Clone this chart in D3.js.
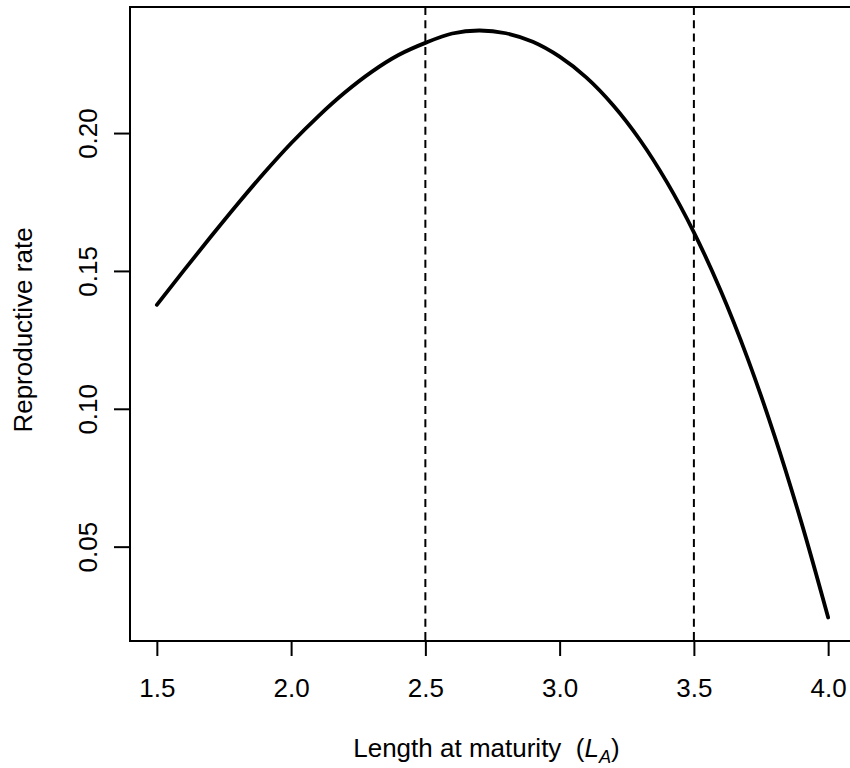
<!DOCTYPE html>
<html>
<head>
<meta charset="utf-8">
<script src="https://cdn.jsdelivr.net/npm/d3@7"></script>
<style>
  html, body { margin: 0; padding: 0; background: #fff; }
  svg { display: block; }
  text { font-family: "Liberation Sans", Arial, Helvetica, sans-serif; fill: #000; }
</style>
</head>
<body>
<svg id="chart" width="850" height="768"></svg>
<script>
// Length at maturity (x) and the resulting reproductive rate (y)
const lengths = [1.5, 1.6, 1.7, 1.8, 1.9, 2.0, 2.1, 2.2, 2.3, 2.4, 2.5,
                 2.6, 2.7, 2.8, 2.9, 3.0, 3.1, 3.2, 3.3, 3.4, 3.5,
                 3.6, 3.7, 3.8, 3.9, 4.0];
const rates = [0.1377, 0.1501, 0.1623, 0.1742, 0.1856, 0.1963, 0.2060, 0.2147, 0.2222, 0.2283, 0.2327,
               0.2361, 0.2372, 0.2362, 0.2331, 0.2277, 0.2201, 0.2100, 0.1974, 0.1821, 0.1640,
               0.1428, 0.1183, 0.0903, 0.0589, 0.0243];

// Reference lengths marked with dashed vertical lines
const cutoffs = [2.5, 3.5];

// Axis ticks
const xTicks = [1.5, 2.0, 2.5, 3.0, 3.5, 4.0];
const yTicks = [0.05, 0.10, 0.15, 0.20];

const svg = d3.select("#chart");
const plot = { left: 130, right: 855, top: 7, bottom: 641 };
const fontSize = 26;

// R-style 4% padding on both axes
function padded(ext) {
  const d = (ext[1] - ext[0]) * 0.04;
  return [ext[0] - d, ext[1] + d];
}

const x = d3.scaleLinear().domain(padded(d3.extent(lengths))).range([plot.left, plot.right]);
const y = d3.scaleLinear().domain(padded(d3.extent(rates))).range([plot.bottom, plot.top]);

// Dashed reference lines
svg.selectAll("line.cut")
  .data(cutoffs)
  .enter().append("line")
  .attr("class", "cut")
  .attr("x1", d => x(d)).attr("x2", d => x(d))
  .attr("y1", plot.top).attr("y2", plot.bottom)
  .attr("stroke", "#000").attr("stroke-width", 2)
  .attr("stroke-dasharray", "8,5.3");

// Curve
const pts = lengths.map((l, i) => [l, rates[i]]);
const line = d3.line()
  .x(d => x(d[0]))
  .y(d => y(d[1]))
  .curve(d3.curveCatmullRom.alpha(0.5));

svg.append("path")
  .datum(pts)
  .attr("d", line)
  .attr("fill", "none")
  .attr("stroke", "#000")
  .attr("stroke-width", 3.8)
  .attr("stroke-linejoin", "round")
  .attr("stroke-linecap", "round");

// Plot frame
svg.append("rect")
  .attr("x", plot.left).attr("y", plot.top)
  .attr("width", plot.right - plot.left)
  .attr("height", plot.bottom - plot.top)
  .attr("fill", "none").attr("stroke", "#000").attr("stroke-width", 2);

// Bottom axis
const xAxis = d3.axisBottom(x)
  .tickValues(xTicks)
  .tickSize(15)
  .tickFormat(d3.format(".1f"));

const gx = svg.append("g")
  .attr("transform", `translate(0,${plot.bottom})`)
  .call(xAxis);
gx.select(".domain").remove();
gx.selectAll(".tick line").attr("stroke", "#000").attr("stroke-width", 2);
gx.selectAll(".tick text")
  .attr("font-size", fontSize)
  .attr("font-family", '"Liberation Sans", Arial, Helvetica, sans-serif')
  .attr("dy", null)
  .attr("y", 697 - plot.bottom);

// Left axis with rotated labels
const yAxis = d3.axisLeft(y)
  .tickValues(yTicks)
  .tickSize(16)
  .tickFormat(d3.format(".2f"));

const gy = svg.append("g")
  .attr("transform", `translate(${plot.left},0)`)
  .call(yAxis);
gy.select(".domain").remove();
gy.selectAll(".tick line").attr("stroke", "#000").attr("stroke-width", 2);
gy.selectAll(".tick text")
  .attr("font-size", fontSize)
  .attr("font-family", '"Liberation Sans", Arial, Helvetica, sans-serif')
  .attr("x", null).attr("dy", null)
  .attr("text-anchor", "middle")
  .attr("transform", `translate(${97 - plot.left},0) rotate(-90)`);

// Axis titles
const xTitle = svg.append("text")
  .attr("x", (plot.left + plot.right) / 2 - 6)
  .attr("y", 757)
  .attr("text-anchor", "middle")
  .attr("font-size", fontSize);
xTitle.append("tspan").text("Length at maturity\u00a0\u00a0(");
xTitle.append("tspan").attr("font-style", "italic").text("L");
xTitle.append("tspan").attr("font-style", "italic").attr("font-size", fontSize * 0.7)
  .attr("dy", 6).text("A");
xTitle.append("tspan").attr("dy", -6).text(")");

svg.append("text")
  .attr("transform", `translate(32,330) rotate(-90)`)
  .attr("text-anchor", "middle")
  .attr("font-size", fontSize)
  .text("Reproductive rate");
</script>
</body>
</html>
